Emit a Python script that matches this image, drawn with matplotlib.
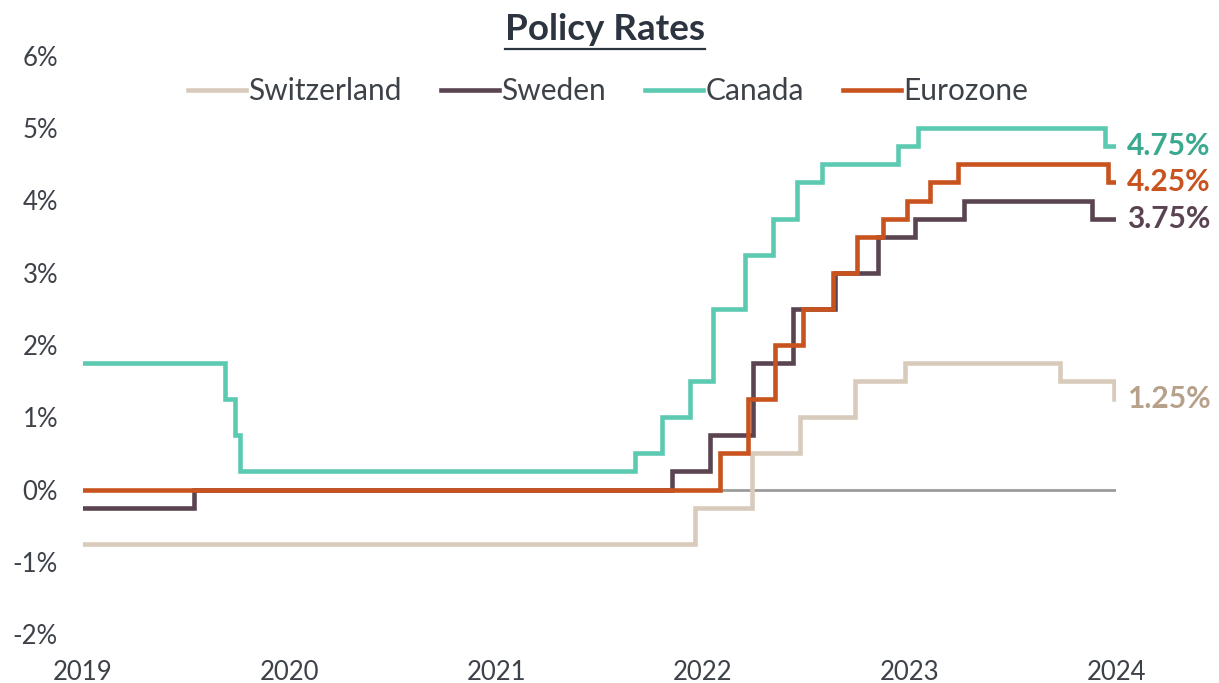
import matplotlib
matplotlib.use("Agg")
import matplotlib.pyplot as plt
from matplotlib.lines import Line2D

plt.rcParams['font.family'] = ['Lato', 'DejaVu Sans']

# Step-change data: (decimal-year position as drawn, rate %)
canada_x = [2019.0, 2019.688, 2019.735, 2019.76, 2021.673, 2021.804, 2021.939, 2022.051,
            2022.206, 2022.341, 2022.458, 2022.579, 2022.947, 2023.044, 2023.949, 2024.0]
canada_y = [1.75, 1.25, 0.75, 0.25, 0.5, 1.0, 1.5, 2.5,
            3.25, 3.75, 4.25, 4.5, 4.75, 5.0, 4.75, 4.75]

euro_x = [2019.0, 2022.085, 2022.220, 2022.351, 2022.487, 2022.632, 2022.748,
          2022.874, 2022.990, 2023.102, 2023.237, 2023.959, 2024.0]
euro_y = [0.0, 0.5, 1.25, 2.0, 2.5, 3.0, 3.5, 3.75, 4.0, 4.25, 4.5, 4.25, 4.25]

sweden_x = [2019.0, 2019.538, 2021.852, 2022.036, 2022.245, 2022.438, 2022.640,
            2022.850, 2023.029, 2023.262, 2023.886, 2024.0]
sweden_y = [-0.25, 0.0, 0.25, 0.75, 1.75, 2.5, 3.0, 3.5, 3.75, 4.0, 3.75, 3.75]

swiss_x = [2019.0, 2021.964, 2022.240, 2022.472, 2022.738, 2022.981, 2023.731, 2023.988, 2024.0]
swiss_y = [-0.75, -0.25, 0.5, 1.0, 1.5, 1.75, 1.5, 1.25, 1.25]

series_names = ["Switzerland", "Sweden", "Canada", "Eurozone"]
end_labels = ["1.25%", "3.75%", "4.75%", "4.25%"]
yticks = [-2, -1, 0, 1, 2, 3, 4, 5, 6]
xticks = [2019, 2020, 2021, 2022, 2023, 2024]

line_colors = {"Switzerland": "#d9cbbb", "Sweden": "#5b4452", "Canada": "#5ccab1", "Eurozone": "#c8531e"}
label_colors = {"Switzerland": "#b7a18a", "Sweden": "#5b4452", "Canada": "#3aa98f", "Eurozone": "#c8531e"}

fig = plt.figure(figsize=(12.19, 6.83), dpi=100)
ax = fig.add_axes([83/1219, 1-634/683, (1116-83)/1219, (634-56)/683])

# zero line
ax.plot([2019.0, 2024.0], [0, 0], color="#9c9c9c", lw=2.0, zorder=1)

data = {"Switzerland": (swiss_x, swiss_y), "Sweden": (sweden_x, sweden_y),
        "Canada": (canada_x, canada_y), "Eurozone": (euro_x, euro_y)}
zorders = {"Switzerland": 2, "Sweden": 3, "Canada": 4, "Eurozone": 5}
for name, lab in zip(series_names, end_labels):
    xs, ys = data[name]
    ax.plot(xs, ys, drawstyle='steps-post', color=line_colors[name], lw=3.3,
            label=name, zorder=zorders[name], solid_joinstyle='miter')
    ax.annotate(lab, xy=(xs[-1], ys[-1]), xytext=(8, 0), textcoords='offset points',
                ha='left', va='center', fontsize=21.5, fontweight='bold',
                color=label_colors[name], annotation_clip=False)

ax.set_xlim(2019, 2024)
ax.set_ylim(-2, 6)
ax.set_yticks(yticks)
ax.set_yticklabels([f"{v}%" for v in yticks])
ax.set_xticks(xticks)
ax.set_xticklabels([str(v) for v in xticks])
for s in ax.spines.values():
    s.set_visible(False)
ax.tick_params(axis='both', length=0, labelsize=18.5, labelcolor="#3d4249")
ax.tick_params(axis='y', pad=18)
ax.tick_params(axis='x', pad=19)

leg = ax.legend(loc='center', bbox_to_anchor=(608/1219, 1-91/683), bbox_transform=fig.transFigure,
                ncol=4, frameon=False, fontsize=21.5, handlelength=1.95, handletextpad=0.08,
                columnspacing=1.3, labelcolor="#3d4249")

title = fig.text(605/1219, 1-30/683, "Policy Rates", ha='center', va='center',
                 fontsize=26.5, fontweight='bold', color="#2c3440")
fig.canvas.draw()
bb = title.get_window_extent()
fig.add_artist(Line2D([bb.x0/1219, bb.x1/1219], [(bb.y0 - 2)/683, (bb.y0 - 2)/683],
                      transform=fig.transFigure, color="#2c3440", lw=1.6))

fig.savefig("out.png", dpi=100, facecolor="white")
